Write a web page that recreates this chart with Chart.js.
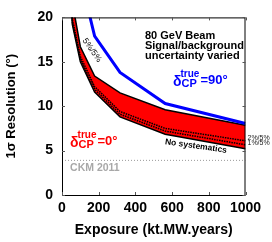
<!DOCTYPE html>
<html>
<head>
<meta charset="utf-8">
<script src="https://cdn.jsdelivr.net/npm/chart.js@4.4.1/dist/chart.umd.min.js"></script>
<style>
  html, body { margin: 0; padding: 0; background: #ffffff; }
  #wrap { width: 272px; height: 242px; position: relative; }
</style>
</head>
<body>
<div id="wrap"><canvas id="c" width="272" height="242"></canvas></div>
<script>
// ---- data ----
const exposure   = [31.6, 56.2, 100, 177.8, 316.2, 562.3, 1000];
const noSyst     = [28.0, 19.2, 15.0, 11.6, 8.8, 6.85, 5.2];
const sys1pct    = [28.5, 19.5, 15.3, 11.9, 9.1, 7.2, 5.65];
const sys2pct    = [29.0, 19.8, 15.6, 12.2, 9.4, 7.5, 6.1];
const sys5pct    = [32.0, 21.7, 16.7, 13.4, 11.5, 9.6, 7.85];
const cp90       = [40.0, 30.0, 24.5, 17.9, 13.8, 10.3, 8.05];
const ckmLevel   = 3.9;
const ckmRange   = [0, 1000];
const xTicks     = [0, 200, 400, 600, 800, 1000];
const yTicks     = [0, 5, 10, 15, 20];

const pts = (ys) => exposure.map((x, i) => ({x: x, y: ys[i]}));
const FONT = "'Liberation Sans', Arial, Helvetica, sans-serif";

const annotate = {
  id: 'annotate',
  afterDraw(chart) {
    const ctx = chart.ctx, xs = chart.scales.x, ys = chart.scales.y, a = chart.chartArea;
    const X = v => xs.getPixelForValue(v), Y = v => ys.getPixelForValue(v);
    ctx.save();
    // frame
    ctx.strokeStyle = '#000'; ctx.lineWidth = 1;
    ctx.strokeRect(a.left + 0.5, a.top + 0.5, a.right - a.left - 1, a.bottom - a.top);
    // inward ticks
    ctx.beginPath();
    xTicks.forEach(t => {
      const px = Math.round(X(t)) + 0.5;
      ctx.moveTo(px, a.bottom); ctx.lineTo(px, a.bottom - 3);
      ctx.moveTo(px, a.top); ctx.lineTo(px, a.top + 3);
    });
    yTicks.forEach(t => {
      const py = Math.round(Y(t)) + 0.5;
      ctx.moveTo(a.left, py); ctx.lineTo(a.left + 3, py);
      ctx.moveTo(a.right, py); ctx.lineTo(a.right - 3, py);
    });
    ctx.strokeStyle = '#555'; ctx.stroke();

    // text block
    ctx.fillStyle = '#000';
    ctx.font = 'bold 11px ' + FONT;
    ctx.textBaseline = 'middle'; ctx.textAlign = 'left';
    ctx.fillText('80 GeV Beam', X(452), Y(17.9));
    ctx.fillText('Signal/background', X(452), Y(16.8));
    ctx.fillText('uncertainty varied', X(452), Y(15.7));

    // CKM label
    ctx.fillStyle = '#a8a8a8';
    ctx.font = 'bold 10.5px ' + FONT;
    ctx.fillText('CKM 2011', X(44), Y(3.0));

    // delta labels
    function delta(ax, by, color, txt) {
      ctx.fillStyle = color;
      ctx.textBaseline = 'alphabetic';
      ctx.font = 'bold 14px ' + FONT;
      ctx.fillText('δ', ax, by);
      const dw = ctx.measureText('δ').width;
      ctx.font = 'bold 10px ' + FONT;
      ctx.fillText('true', ax + dw - 1, by - 9);
      const tw = ctx.measureText('true').width;
      ctx.font = 'bold 11px ' + FONT;
      ctx.fillText('CP', ax + dw, by + 1);
      const cw = ctx.measureText('CP').width;
      ctx.font = 'bold 13px ' + FONT;
      ctx.fillText(txt, ax + dw + Math.max(tw - 1, cw) + 1, by - 2);
    }
    delta(X(605), Y(12.25), '#0000ff', '=90°');
    delta(X(44), Y(5.44), '#ff0000', '=0°');

    // 5%/5% label along the curve
    ctx.fillStyle = '#111';
    ctx.font = '8.5px ' + FONT;
    ctx.textBaseline = 'middle'; ctx.textAlign = 'center';
    ctx.save();
    ctx.translate(X(163), Y(16.3));
    ctx.rotate(55 * Math.PI / 180);
    ctx.fillText('5%/5%', 0, 0);
    ctx.restore();

    // No systematics label
    ctx.fillStyle = '#000';
    ctx.font = 'bold 8.5px ' + FONT;
    ctx.save();
    ctx.translate(X(730), Y(5.5));
    ctx.rotate(8 * Math.PI / 180);
    ctx.fillText('No systematics', 0, 0);
    ctx.restore();

    // right-side labels
    ctx.textAlign = 'left';
    ctx.fillStyle = '#222';
    ctx.font = '7px ' + FONT;
    ctx.fillText('2%/5%', a.right + 2, Y(6.4));
    ctx.fillText('1%/5%', a.right + 2, Y(5.85));
    ctx.restore();
  }
};

new Chart(document.getElementById('c'), {
  type: 'line',
  data: {
    datasets: [
      { label: 'No systematics', data: pts(noSyst), borderColor: '#000', borderWidth: 1.5, order: 2, fill: false },
      { label: '1%/5%', data: pts(sys1pct), borderColor: '#000', borderWidth: 1.5, borderDash: [1.5, 1], order: 3, fill: false },
      { label: '2%/5%', data: pts(sys2pct), borderColor: '#000', borderWidth: 1.5, borderDash: [1.5, 1], order: 4, fill: false },
      { label: '5%/5%', data: pts(sys5pct), borderColor: '#000', borderWidth: 1.5, order: 5,
        fill: {target: 0}, backgroundColor: '#ff0000' },
      { label: 'dCP=90', data: pts(cp90), borderColor: '#0000ff', borderWidth: 3, order: 1, fill: false },
      { label: 'CKM 2011', data: ckmRange.map(x => ({x: x, y: ckmLevel})), borderColor: '#9a9a9a',
        borderWidth: 1, borderDash: [1, 2], order: 10, fill: false }
    ]
  },
  options: {
    responsive: false,
    animation: false,
    events: [],
    elements: { point: { radius: 0 }, line: { tension: 0, borderCapStyle: 'butt' } },
    layout: { padding: { left: 0, right: 26.5, top: 13, bottom: 0 } },
    plugins: {
      legend: { display: false },
      tooltip: { enabled: false },
      filler: { drawTime: 'beforeDatasetsDraw' }
    },
    scales: {
      x: {
        type: 'linear', min: 0, max: 1000,
        afterBuildTicks: s => { s.ticks = xTicks.map(v => ({value: v})); },
        afterFit: s => { s.height = 47; },
        grid: { display: false, drawTicks: false },
        border: { display: false },
        ticks: { padding: 5, color: '#000', autoSkip: false, maxRotation: 0,
                 callback: v => String(v),
                 font: { family: FONT, size: 14, weight: 'bold' } },
        title: { display: true, text: 'Exposure (kt.MW.years)', color: '#000',
                 font: { family: FONT, size: 14, weight: 'bold' }, padding: { top: 0, bottom: 3 } }
      },
      y: {
        type: 'linear', min: 0, max: 20,
        afterBuildTicks: s => { s.ticks = yTicks.map(v => ({value: v})); },
        afterFit: s => { s.width = 62; },
        grid: { display: false, drawTicks: false },
        border: { display: false },
        ticks: { padding: 9, color: '#000', autoSkip: false, callback: v => String(v),
                 font: { family: FONT, size: 14, weight: 'bold' } },
        title: { display: true, text: '1σ Resolution (°)', color: '#000',
                 font: { family: FONT, size: 13, weight: 'bold' }, padding: { top: 4, bottom: 0 } }
      }
    }
  },
  plugins: [annotate]
});
</script>
</body>
</html>
